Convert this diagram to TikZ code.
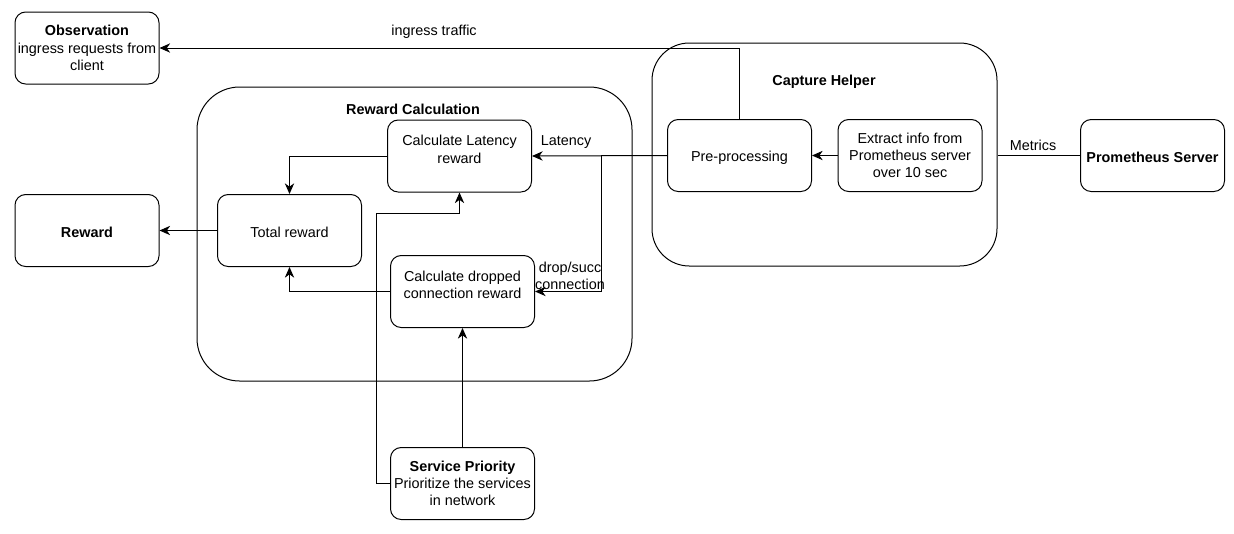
\documentclass[tikz,border=0pt]{standalone}
\usepackage{fontspec}
\setmainfont{Liberation Sans}
\usetikzlibrary{arrows.meta}
\tikzset{
  box/.style={draw, line width=0.75pt, rounded corners=8pt, minimum width=108pt, minimum height=54pt, align=center, inner sep=1pt, font=\fontsize{10.8pt}{13pt}\selectfont, execute at begin node={\rule{0pt}{10.5pt}}},
  group/.style={draw, line width=0.75pt},
  lbl/.style={font=\fontsize{10.8pt}{13pt}\selectfont, align=center, inner sep=0pt},
  ttl/.style={font=\fontsize{10.8pt}{13pt}\selectfont\bfseries, inner sep=0pt},
  conn/.style={line width=0.75pt},
  arr/.style={line width=0.75pt, -{Stealth[length=8pt,width=7pt,inset=2.5pt]}},
}
\begin{document}
\begin{tikzpicture}[x=0.75pt,y=-0.75pt]
\useasboundingbox (0,0) rectangle (1234,533);
% containers
\node[group, rounded corners=32pt, minimum width=326.25pt, minimum height=220.5pt] (rc) at (414.5,234) {};
\node[group, rounded corners=28pt, minimum width=258.75pt, minimum height=167.25pt] (ch) at (824.5,154.5) {};
\node[ttl] (rcT) at (413,109) {Reward Calculation};
\node[ttl] (chT) at (824,82) {Capture Helper};
% boxes
\node[box] (obs) at (87,48) {\textbf{Observation}\\ingress requests from\\client};
\node[box] (rew) at (87,230.5) {\textbf{Reward}};
\node[box] (lat) at (459.5,156) {Calculate Latency\\reward\\[-3pt]\mbox{}};
\node[box] (tot) at (289.5,230.5) {Total reward};
\node[box] (drop) at (462.5,291.5) {Calculate dropped\\connection reward\\[-3pt]\mbox{}};
\node[box] (sp) at (462.5,483.5) {\textbf{Service Priority}\\Prioritize the services\\in network};
\node[box] (pre) at (739.5,155.5) {Pre-processing};
\node[box] (ext) at (910,155.5) {Extract info from\\Prometheus server\\over 10 sec};
\node[box] (prom) at (1152.5,155.5) {\textbf{Prometheus Server}};
% connectors
\draw[arr] (pre.north) |- (obs.east);
\node[lbl] (ingL) at (434,32) {ingress traffic};
\draw[arr] (ext.west) -- (pre.east);
\draw[arr] (pre.west) -- (lat.east);
\node[lbl] (latL) at (566,142) {Latency};
\coordinate (br) at (601,155.5);
\draw[arr] (br) |- (drop.east);
\node[lbl] (dsL) at (570,276) {drop/succ\\connection};
\draw[arr] (lat.west) -| (tot.north);
\draw[arr] (drop.west) -| (tot.south);
\draw[arr] (tot.west) -- (rew.east);
\draw[arr] (sp.north) -- (drop.south);
\coordinate (k1) at (376,213);
\draw[arr] (sp.west) -| (k1) -| (lat.south);
\draw[conn] (prom.west) -- (prom.west -| ch.east);
\node[lbl] (metL) at (1033,145) {Metrics};
\end{tikzpicture}
\end{document}
